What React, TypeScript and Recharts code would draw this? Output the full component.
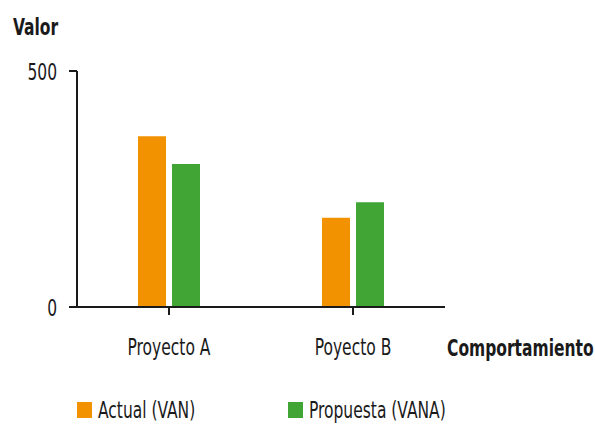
import { Bar, BarChart, Legend, XAxis, YAxis } from "recharts";

const categories = ["Proyecto A", "Poyecto B"];
const actualVan = [362, 189];
const propuestaVana = [303, 222];
const yTicks = [0, 500];

const seriesNames = ["Actual (VAN)", "Propuesta (VANA)"];
const seriesColors = ["#F39200", "#40A535"];

const data = categories.map((name, i) => ({
  name,
  actual: actualVan[i],
  propuesta: propuestaVana[i],
}));

const font = "'DejaVu Sans Condensed', 'DejaVu Sans', sans-serif";
const ink = "#1a1a1a";
const fontSize = 23;
// squeeze the condensed face a bit further horizontally
const squeeze = 0.75;

type NarrowProps = {
  x: number;
  y: number;
  anchor?: "start" | "middle" | "end";
  bold?: boolean;
  children: string;
};

function NarrowText({ x, y, anchor = "start", bold = false, children }: NarrowProps) {
  return (
    <g transform={`translate(${x} ${y}) scale(${squeeze} 1)`}>
      <text
        x={0}
        y={0}
        textAnchor={anchor}
        fill={ink}
        fontSize={fontSize}
        fontFamily={font}
        fontWeight={bold ? "bold" : "normal"}
      >
        {children}
      </text>
    </g>
  );
}

function XTick({ x, y, payload }: any) {
  return (
    <NarrowText x={x} y={y} anchor="middle">
      {payload.value}
    </NarrowText>
  );
}

function YTick({ x, y, payload }: any) {
  return (
    <NarrowText x={x} y={y + 9} anchor="end">
      {String(payload.value)}
    </NarrowText>
  );
}

function LegendRow() {
  return (
    <svg width={595} height={34}>
      {seriesNames.map((name, i) => (
        <g key={name} transform={`translate(${77 + i * 211} 0)`}>
          <rect x={0} y={12} width={15} height={16} fill={seriesColors[i]} />
          <NarrowText x={21} y={28}>
            {name}
          </NarrowText>
        </g>
      ))}
    </svg>
  );
}

export default function App() {
  return (
    <div style={{ position: "absolute", left: 0, top: 0, width: 595, height: 424, background: "#fff" }}>
      <BarChart
        width={595}
        height={424}
        data={data}
        margin={{ top: 71, right: 150, left: 0, bottom: 0 }}
        barCategoryGap={61}
        barGap={6}
      >
        <XAxis
          dataKey="name"
          height={117}
          axisLine={{ stroke: ink, strokeWidth: 2 }}
          tickLine={{ stroke: ink, strokeWidth: 2 }}
          tickSize={8}
          tickMargin={40}
          tick={<XTick />}
          label={{
            content: ({ viewBox }: any) => (
              <NarrowText x={viewBox.x + viewBox.width + 2} y={viewBox.y + 49} bold>
                Comportamiento
              </NarrowText>
            ),
          }}
        />
        <YAxis
          width={77}
          domain={[0, 500]}
          ticks={yTicks}
          axisLine={{ stroke: ink, strokeWidth: 2 }}
          tickLine={{ stroke: ink, strokeWidth: 2 }}
          tickSize={8}
          tickMargin={12}
          tick={<YTick />}
          label={{
            content: ({ viewBox }: any) => (
              <NarrowText x={viewBox.x + 13} y={viewBox.y - 36} bold>
                Valor
              </NarrowText>
            ),
          }}
        />
        <Legend
          layout="horizontal"
          verticalAlign="middle"
          wrapperStyle={{ top: 390, left: 0, width: 595 }}
          content={() => <LegendRow />}
        />
        <Bar dataKey="actual" name={seriesNames[0]} fill={seriesColors[0]} isAnimationActive={false} />
        <Bar dataKey="propuesta" name={seriesNames[1]} fill={seriesColors[1]} isAnimationActive={false} />
      </BarChart>
    </div>
  );
}
